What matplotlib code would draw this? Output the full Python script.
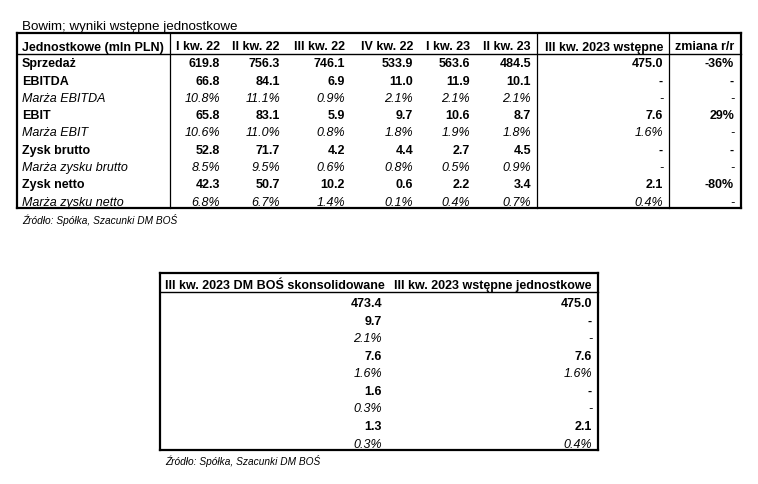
import matplotlib
matplotlib.use("Agg")
import matplotlib.pyplot as plt
from matplotlib.lines import Line2D

W, H = 758, 485
DPI = 100

title = "Bowim; wyniki wstępne jednostkowe"
source = "Źródło: Spółka, Szacunki DM BOŚ"

header = ["Jednostkowe (mln PLN)", "I kw. 22", "II kw. 22", "III kw. 22", "IV kw. 22",
          "I kw. 23", "II kw. 23", "III kw. 2023 wstępne", "zmiana r/r"]
row_labels = ["Sprzedaż", "EBITDA", "Marża EBITDA", "EBIT", "Marża EBIT",
              "Zysk brutto", "Marża zysku brutto", "Zysk netto", "Marża zysku netto"]
row_italic = [False, False, True, False, True, False, True, False, True]

q1_22 = ["619.8", "66.8", "10.8%", "65.8", "10.6%", "52.8", "8.5%", "42.3", "6.8%"]
q2_22 = ["756.3", "84.1", "11.1%", "83.1", "11.0%", "71.7", "9.5%", "50.7", "6.7%"]
q3_22 = ["746.1", "6.9", "0.9%", "5.9", "0.8%", "4.2", "0.6%", "10.2", "1.4%"]
q4_22 = ["533.9", "11.0", "2.1%", "9.7", "1.8%", "4.4", "0.8%", "0.6", "0.1%"]
q1_23 = ["563.6", "11.9", "2.1%", "10.6", "1.9%", "2.7", "0.5%", "2.2", "0.4%"]
q2_23 = ["484.5", "10.1", "2.1%", "8.7", "1.8%", "4.5", "0.9%", "3.4", "0.7%"]
q3_23_prelim = ["475.0", "-", "-", "7.6", "1.6%", "-", "-", "2.1", "0.4%"]
yoy_change = ["-36%", "-", "-", "29%", "-", "-", "-", "-80%", "-"]

header2 = ["III kw. 2023 DM BOŚ skonsolidowane", "III kw. 2023 wstępne jednostkowe"]
q3_23_bos_cons = ["473.4", "9.7", "2.1%", "7.6", "1.6%", "1.6", "0.3%", "1.3", "0.3%"]
q3_23_prelim_stand = ["475.0", "-", "-", "7.6", "1.6%", "-", "-", "2.1", "0.4%"]

plt.rcParams['font.family'] = ["Liberation Sans", "DejaVu Sans"]
FS, FS_T, FS_S = 9.0, 9.6, 7.3

fig = plt.figure(figsize=(W / DPI, H / DPI), dpi=DPI)
fig.patch.set_facecolor("white")


def fx(x):
    return x / W


def fy(y):
    return 1 - y / H


def txt(x, y, s, ha="left", bold=False, italic=False, size=None):
    fig.text(fx(x), fy(y), s, ha=ha, va="baseline", fontsize=size or FS,
             fontweight="bold" if bold else "normal",
             fontstyle="italic" if italic else "normal", color="black")


def hline(x0, x1, y, lw):
    fig.add_artist(Line2D([fx(x0), fx(x1)], [fy(y), fy(y)], color="black", lw=lw,
                          transform=fig.transFigure, solid_capstyle="projecting"))


def vline(x, y0, y1, lw):
    fig.add_artist(Line2D([fx(x), fx(x)], [fy(y0), fy(y1)], color="black", lw=lw,
                          transform=fig.transFigure, solid_capstyle="projecting"))


# ---------- top table ----------
txt(22, 30, title, size=FS_T)
L, R, T, HB, B = 17, 741, 34, 54.5, 209
col_right = [220, 280, 345, 413, 470, 531, 663, 734]
txt(22, 50.5, header[0], bold=True)
for cx, h in zip(col_right, header[1:]):
    txt(cx, 50.5, h, ha="right", bold=True)

cols = [q1_22, q2_22, q3_22, q4_22, q1_23, q2_23, q3_23_prelim, yoy_change]
y0, dy = 67.3, 17.3
for i, lab in enumerate(row_labels):
    y = y0 + i * dy
    it = row_italic[i]
    txt(22, y, lab, bold=not it, italic=it)
    for cx, col in zip(col_right, cols):
        txt(cx, y, col[i], ha="right", bold=not it, italic=it)

for yy in (T, B):
    hline(L, R, yy, 1.6)
hline(L, R, HB, 1.0)
for xx in (L, R):
    vline(xx, T, B, 1.6)
for xx in (170, 537, 669):
    vline(xx, T, B, 0.9)
txt(22, 224, source, italic=True, size=FS_S)

# ---------- bottom table ----------
L2, R2, T2, HB2, B2 = 160, 598, 274, 293, 451
txt(165, 289, header2[0], bold=True)
txt(592, 289, header2[1], ha="right", bold=True)
y0b = 307.5
for i in range(len(q3_23_bos_cons)):
    y = y0b + i * 17.5
    it = row_italic[i]
    txt(382, y, q3_23_bos_cons[i], ha="right", bold=not it, italic=it)
    txt(592, y, q3_23_prelim_stand[i], ha="right", bold=not it, italic=it)
for yy in (T2, B2):
    hline(L2, R2, yy, 1.6)
hline(L2, R2, HB2, 1.0)
for xx in (L2, R2):
    vline(xx, T2, B2, 1.6)
txt(165, 465, source, italic=True, size=FS_S)

fig.savefig("out.png", dpi=DPI, facecolor="white")
